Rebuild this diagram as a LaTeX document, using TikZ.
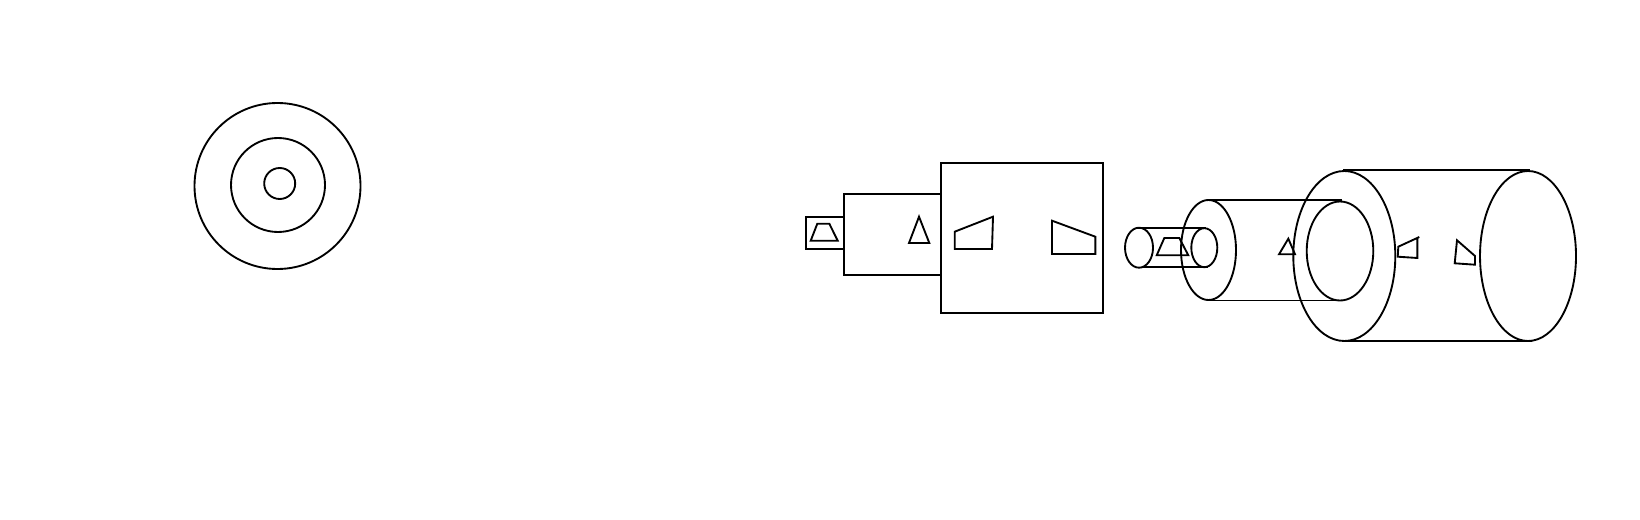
\documentclass[tikz,border=0pt]{standalone}
\tikzset{
  outline/.style={draw=black,line width=1.4pt,line join=miter,fill=none},
}
\begin{document}
\begin{tikzpicture}[x=0.75pt,y=-0.75pt]
\useasboundingbox (0,0) rectangle (1640,520);
\fill[white] (0,0) rectangle (1640,520);
% concentric circles
\draw[outline] (277.5,186) circle[radius=83*0.75pt];
\draw[outline] (278,185) circle[radius=47*0.75pt];
\draw[outline] (279.7,183.5) circle[radius=15.5*0.75pt];
% front view rectangles
\draw[outline] (805.7,216.7) rectangle (843.7,249);
\draw[outline] (843.7,193.7) rectangle (940.7,275);
\draw[outline] (940.7,163) rectangle (1103.3,313);
\draw[outline] (810.7,240.7) -- (837.7,240.7) -- (829.3,223.7) -- (817.3,223.7) -- cycle;
\draw[outline] (909,243) -- (929.3,243) -- (919,216.7) -- cycle;
\draw[outline] (954.7,231.7) -- (993,216.7) -- (992,249) -- (954.7,249) -- cycle;
\draw[outline] (1052,220.7) -- (1095.3,236.7) -- (1095.3,254) -- (1052,254) -- cycle;
% small cylinder
\draw[outline] (1139,247.7) ellipse[x radius=14*0.75pt,y radius=20*0.75pt];
\draw[outline] (1204.3,247.7) ellipse[x radius=13*0.75pt,y radius=19.5*0.75pt];
\draw[outline] (1138.3,227.7) -- (1206,227.7);
\draw[outline] (1143,267) -- (1208,267);
\draw[outline] (1156.7,255.3) -- (1188.3,255.3) -- (1179.3,238) -- (1164.3,238) -- cycle;
% medium cylinder
\draw[outline] (1208.5,250) ellipse[x radius=27.5*0.75pt,y radius=50*0.75pt];
\draw[outline] (1340,251) ellipse[x radius=33.3*0.75pt,y radius=49.5*0.75pt];
\draw[outline] (1210,200) -- (1342.3,200);
\draw[outline] (1208,300.5) -- (1340,300.5);
\draw[outline] (1279,254.3) -- (1295,254.3) -- (1288.3,238.7) -- cycle;
% large cylinder
\draw[outline] (1344.3,256) ellipse[x radius=51*0.75pt,y radius=85*0.75pt];
\draw[outline] (1528,256) ellipse[x radius=48*0.75pt,y radius=85*0.75pt];
\draw[outline] (1343.3,170) -- (1530,170);
\draw[outline] (1341.7,341) -- (1531.7,341);
\draw[outline] (1419.3,237) -- (1398.3,246.7) -- (1397.7,256.7) -- (1417.3,258) -- (1417.3,238);
\draw[outline] (1457,240.3) -- (1475,256) -- (1475,264.7) -- (1454.7,263.3) -- cycle;
\end{tikzpicture}
\end{document}
